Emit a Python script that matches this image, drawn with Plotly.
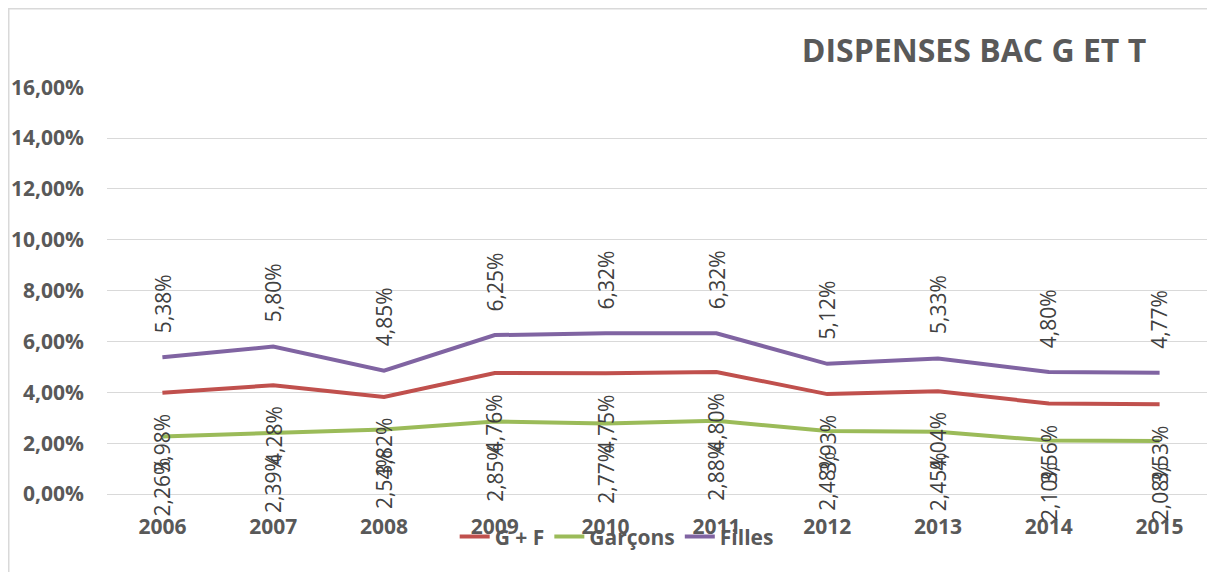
import plotly.graph_objects as go

years = ["2006", "2007", "2008", "2009", "2010", "2011", "2012", "2013", "2014", "2015"]
gf = [3.98, 4.28, 3.82, 4.76, 4.75, 4.80, 3.93, 4.04, 3.56, 3.53]
garcons = [2.26, 2.39, 2.54, 2.85, 2.77, 2.88, 2.48, 2.45, 2.10, 2.08]
filles = [5.38, 5.80, 4.85, 6.25, 6.32, 6.32, 5.12, 5.33, 4.80, 4.77]

series = [
    ("G + F", gf, "#C0504D", "below"),
    ("Garçons", garcons, "#9BBB59", "below"),
    ("Filles", filles, "#8064A2", "above"),
]

FONT = "Open Sans"
GRAY = "#595959"

# page body has an 8px margin: figure is sized to fill the rest of the window
W, H = 1207, 564
L, R, T, B = 99, 0, 79, 78
PW, PH = W - L - R, H - T - B

fig = go.Figure()
annotations = []
for name, vals, color, pos in series:
    yv = [v / 100 for v in vals]
    fig.add_trace(go.Scatter(
        x=years, y=yv, name=name, mode="lines",
        line=dict(color=color, width=4),
    ))
    for i, y in enumerate(yv):
        annotations.append(dict(
            x=i, y=y, xref="x", yref="y",
            text=f"{vals[i]:.2f}%".replace(".", ","),
            showarrow=False, textangle=-90,
            xanchor="center",
            yanchor="bottom" if pos == "above" else "top",
            yshift=22 if pos == "above" else -19,
            font=dict(family=FONT, size=21, color="#404040"),
        ))

fig.update_layout(
    width=W, height=H,
    margin=dict(l=L, r=R, t=T, b=B, pad=0),
    paper_bgcolor="white", plot_bgcolor="white",
    separators=", ",
    title=dict(
        text="<b>DISPENSES BAC G ET T</b>",
        font=dict(family=FONT, size=32, color=GRAY),
        x=966 / W, xanchor="center", xref="container",
        y=1 - 43 / H, yanchor="middle", yref="container",
    ),
    showlegend=True,
    legend=dict(
        orientation="h", x=0.46, xanchor="center",
        y=-0.105, yanchor="middle",
        bgcolor="rgba(0,0,0,0)",
        font=dict(family=FONT, size=21, color=GRAY, weight="bold"),
    ),
    annotations=annotations,
    shapes=[dict(
        type="rect", xref="paper", yref="paper",
        x0=(0.5 - L) / PW, x1=1.05,
        y0=(PH + T - 0.5) / PH, y1=-0.4,
        line=dict(color="#D9D9D9", width=2), fillcolor="rgba(0,0,0,0)",
        layer="below",
    )],
)
fig.update_xaxes(
    type="category", range=[-0.5, 9.5],
    showgrid=False, showline=False, ticks="",
    tickfont=dict(family=FONT, size=21, color=GRAY, weight="bold"),
    ticklabelstandoff=18,
)
fig.update_yaxes(
    range=[0, 0.1601], dtick=0.02, tickformat=".2%",
    showgrid=True, gridcolor="#D9D9D9", gridwidth=1,
    zeroline=True, zerolinecolor="#D9D9D9", zerolinewidth=1,
    showline=False, ticks="",
    tickfont=dict(family=FONT, size=21, color=GRAY, weight="bold"),
    ticklabelstandoff=22,
)

fig.write_html("out.html")
